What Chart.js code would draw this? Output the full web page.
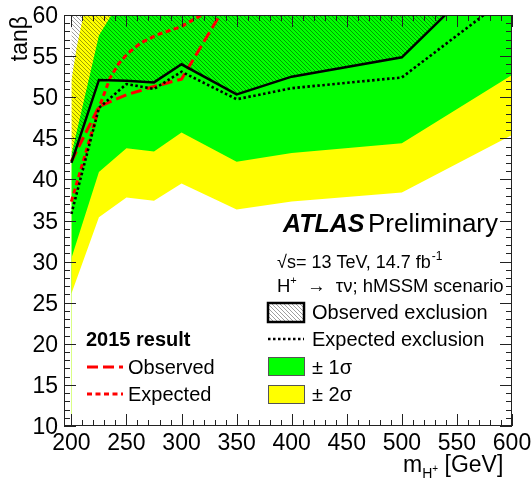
<!DOCTYPE html>
<html>
<head>
<meta charset="utf-8">
<script src="https://cdn.jsdelivr.net/npm/chart.js@4.4.1/dist/chart.umd.min.js"></script>
<style>
  html, body { margin: 0; padding: 0; background: #fff; }
</style>
</head>
<body>
<canvas id="chart" width="532" height="482"></canvas>
<script>
// axis ticks
const xTicks = [200, 250, 300, 350, 400, 450, 500, 550, 600]
const yTicks = [10, 15, 20, 25, 30, 35, 40, 45, 50, 55, 60]

// observed / expected exclusion (this result)
const massObs = [200, 225, 250, 275, 300, 350, 400, 500, 550]
const obsLimit = [42.0, 52.1, 52.0, 51.8, 54.0, 50.35, 52.5, 54.85, 61.4]
const massExp = [200, 225, 250, 275, 300, 350, 400, 500, 600]
const expLimit = [35.8, 48.7, 51.6, 51.0, 53.1, 49.75, 51.1, 52.4, 62.6]

// bands
const massBand = [200, 225, 250, 275, 300, 350, 400, 500, 600]
const sig1Lo = [30.4, 40.9, 43.8, 43.4, 45.7, 42.15, 43.2, 44.4, 52.7]
const sig2Lo = [26.1, 35.4, 37.8, 37.4, 39.5, 36.35, 37.3, 38.4, 45.4]
const sig1Up = [43.0, 57.5, 63.0, 65.0, 67.0, 66.0, 67.0, 68.0, 72.0]
const massUp2 = [200, 205, 211, 225, 250, 300, 400, 500, 600]
const sig2Up = [52.0, 56.2, 60.0, 66.0, 70.0, 72.0, 72.0, 73.0, 78.0]

// 2015 result
const massObs15 = [200, 225, 250, 275, 300, 350]
const obs15 = [42.2, 48.85, 50.3, 51.3, 52.2, 63.4]
const massExp15 = [200, 225, 235, 243, 251, 263, 278, 300, 318, 340]
const exp15 = [37.3, 48.7, 52.3, 54.1, 55.3, 56.6, 57.6, 58.6, 60.0, 61.3]

const GREEN = '#00ff00'
const YELLOW = '#ffff00'
const RED = '#ff0000'
const FONT = '"Liberation Sans", Arial, Helvetica, sans-serif'

function pts(xs, ys) {
  return xs.map((x, i) => ({ x: x, y: ys[i] }))
}

function hatch() {
  const c = document.createElement('canvas')
  c.width = 4
  c.height = 4
  const g = c.getContext('2d')
  g.strokeStyle = 'rgba(0,0,0,0.38)'
  g.lineWidth = 1
  g.beginPath()
  g.moveTo(-1, -1); g.lineTo(5, 5)
  g.moveTo(-1, 3); g.lineTo(1, 5)
  g.moveTo(3, -1); g.lineTo(5, 1)
  g.stroke()
  return g.createPattern(c, 'repeat')
}
const hatchFill = hatch()

function txt(ctx, s, x, y, font, align) {
  ctx.font = font
  ctx.textAlign = align || 'left'
  ctx.textBaseline = 'alphabetic'
  ctx.fillStyle = '#000'
  ctx.fillText(s, x, y)
}

// ticks, frame, labels, legend
const decor = {
  id: 'decor',
  afterDatasetsDraw(chart) {
    const ctx = chart.ctx
    const a = chart.chartArea
    const xs = chart.scales.x
    const ys = chart.scales.y
    ctx.save()
    ctx.strokeStyle = '#222'
    ctx.lineWidth = 1
    ctx.beginPath()
    for (let v = 200; v <= 600; v += 10) {
      const px = Math.round(xs.getPixelForValue(v)) + 0.5
      const len = v % 50 == 0 ? 12 : 6
      ctx.moveTo(px, a.bottom); ctx.lineTo(px, a.bottom - len)
      ctx.moveTo(px, a.top); ctx.lineTo(px, a.top + len)
    }
    for (let v = 10; v <= 60; v += 1) {
      const py = Math.round(ys.getPixelForValue(v)) + 0.5
      const len = v % 5 == 0 ? 12 : 6
      ctx.moveTo(a.left, py); ctx.lineTo(a.left + len, py)
      ctx.moveTo(a.right, py); ctx.lineTo(a.right - len, py)
    }
    ctx.stroke()
    ctx.strokeRect(a.left + 0.5, a.top + 0.5, a.right - a.left - 1, a.bottom - a.top - 1)
    ctx.restore()
  },
  afterDraw(chart) {
    const ctx = chart.ctx
    const xs = chart.scales.x
    const ys = chart.scales.y
    ctx.save()
    xTicks.forEach(v => txt(ctx, String(v), xs.getPixelForValue(v), 450, '23px ' + FONT, 'center'))
    yTicks.forEach(v => txt(ctx, String(v), 58, ys.getPixelForValue(v) + 8, '23px ' + FONT, 'right'))

    // axis titles
    ctx.save()
    ctx.translate(27, 16)
    ctx.rotate(-Math.PI / 2)
    txt(ctx, 'tanβ', 0, 0, '23px ' + FONT, 'right')
    ctx.restore()
    let x = 403
    txt(ctx, 'm', x, 472, '23px ' + FONT); x += ctx.measureText('m').width
    txt(ctx, 'H', x, 478, '14px ' + FONT); x += ctx.measureText('H').width
    txt(ctx, '+', x, 472, '10px ' + FONT); x += ctx.measureText('+').width
    txt(ctx, ' [GeV]', x, 472, '23px ' + FONT)

    // ATLAS label
    txt(ctx, 'ATLAS', 283, 232, 'italic bold 25px ' + FONT)
    txt(ctx, 'Preliminary', 368, 232, '26px ' + FONT)
    x = 277
    txt(ctx, '√s= 13 TeV, 14.7 fb', x, 268, '18px ' + FONT); x += ctx.measureText('√s= 13 TeV, 14.7 fb').width
    txt(ctx, '-1', x + 1, 260, '12px ' + FONT)
    x = 277
    txt(ctx, 'H', x, 292, '18.5px ' + FONT); x += ctx.measureText('H').width
    txt(ctx, '+', x, 284, '11px ' + FONT); x += ctx.measureText('+').width
    txt(ctx, '  →  τν; hMSSM scenario', x, 292, '18.5px ' + FONT)

    // legend (this result)
    ctx.fillStyle = '#fff'
    ctx.fillRect(268, 303, 36, 19)
    ctx.fillStyle = hatchFill
    ctx.fillRect(268, 303, 36, 19)
    ctx.strokeStyle = '#000'
    ctx.lineWidth = 2.5
    ctx.strokeRect(268, 303, 36, 19)
    txt(ctx, 'Observed exclusion', 312, 319, '20px ' + FONT)

    ctx.lineWidth = 2.5
    ctx.setLineDash([2.5, 2.5])
    ctx.beginPath(); ctx.moveTo(268, 339); ctx.lineTo(304, 339); ctx.stroke()
    ctx.setLineDash([])
    txt(ctx, 'Expected exclusion', 312, 346, '20px ' + FONT)

    ctx.lineWidth = 1
    ctx.strokeStyle = '#555'
    ctx.fillStyle = GREEN
    ctx.fillRect(268, 357, 37, 19); ctx.strokeRect(268.5, 357.5, 36, 18)
    txt(ctx, '± 1σ', 312, 374, '20px ' + FONT)
    ctx.fillStyle = YELLOW
    ctx.fillRect(268, 385, 37, 19); ctx.strokeRect(268.5, 385.5, 36, 18)
    txt(ctx, '± 2σ', 312, 401, '20px ' + FONT)

    // legend (2015)
    txt(ctx, '2015 result', 86, 346, 'bold 20px ' + FONT)
    ctx.strokeStyle = RED
    ctx.lineWidth = 3
    ctx.setLineDash([11, 5])
    ctx.beginPath(); ctx.moveTo(87, 367); ctx.lineTo(123, 367); ctx.stroke()
    ctx.setLineDash([5, 3.5])
    ctx.beginPath(); ctx.moveTo(87, 394); ctx.lineTo(123, 394); ctx.stroke()
    ctx.setLineDash([])
    txt(ctx, 'Observed', 128, 374, '20px ' + FONT)
    txt(ctx, 'Expected', 128, 401, '20px ' + FONT)
    ctx.restore()
  }
}

new Chart(document.getElementById('chart'), {
  type: 'line',
  data: {
    datasets: [
      { data: pts(massObs, obsLimit), borderColor: '#000', borderWidth: 2.5, fill: false, order: 1 },
      { data: pts(massExp, expLimit), borderColor: '#000', borderWidth: 2.6, borderDash: [2.5, 2.5], fill: false, order: 2 },
      { data: pts(massObs15, obs15), borderColor: RED, borderWidth: 3, borderDash: [11, 5], fill: false, order: 3 },
      { data: pts(massExp15, exp15), borderColor: RED, borderWidth: 3, borderDash: [5, 3.5], fill: false, order: 4 },
      // hatched excluded region above observed
      { data: pts(massObs, obsLimit), borderWidth: 0, borderColor: 'rgba(0,0,0,0)', backgroundColor: hatchFill, fill: 'end', order: 6 },
      { data: pts(massBand, sig2Lo), borderWidth: 0, borderColor: 'rgba(0,0,0,0)', backgroundColor: '#fff', fill: 'start', order: 7 },
      { data: pts(massBand, sig1Lo), borderWidth: 0, borderColor: 'rgba(0,0,0,0)', backgroundColor: YELLOW, fill: 'start', order: 8 },
      { data: pts(massBand, sig1Up), borderWidth: 0, borderColor: 'rgba(0,0,0,0)', backgroundColor: GREEN, fill: 'start', order: 9 },
      { data: pts(massUp2, sig2Up), borderWidth: 0, borderColor: 'rgba(0,0,0,0)', backgroundColor: YELLOW, fill: 'start', order: 10 }
    ]
  },
  options: {
    responsive: false,
    animation: false,
    devicePixelRatio: 1,
    layout: { padding: { left: 64, right: 20, top: 15, bottom: 56 } },
    elements: { point: { radius: 0 }, line: { tension: 0 } },
    plugins: { legend: { display: false }, tooltip: { enabled: false } },
    scales: {
      x: { type: 'linear', min: 193.3, max: 600, display: false },
      y: { type: 'linear', min: 10, max: 60, display: false }
    }
  },
  plugins: [decor]
})
</script>
</body>
</html>
